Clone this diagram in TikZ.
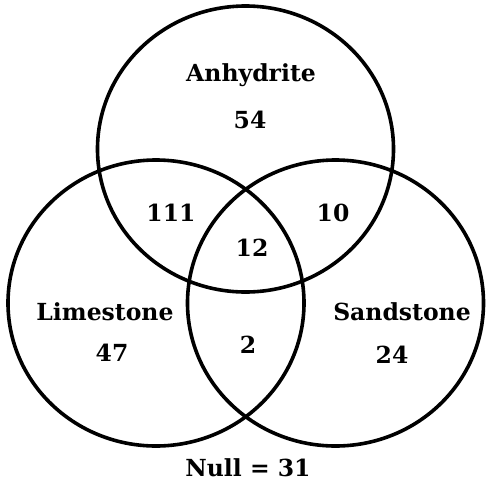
\documentclass[tikz,border=0pt]{standalone}
\usepackage{fontspec}
\setmainfont{DejaVu Serif}
\usetikzlibrary{shapes.geometric}
\begin{document}
\begin{tikzpicture}[x=1pt,y=-1pt,
  setring/.style={draw=black,line width=3.6pt,ellipse,minimum width=296pt,minimum height=286pt,inner sep=0pt},
  lbl/.style={font=\fontsize{23.5}{27}\selectfont\bfseries,inner sep=0pt}]
\useasboundingbox (0,0) rectangle (489,485);
\node[setring] (anh) at (245.5,149) {};
\node[setring] (lim) at (156,303) {};
\node[setring] (san) at (335.5,303) {};
\node[lbl] (tA) at (251,75) {Anhydrite};
\node[lbl] (nA) at (250,120) {54};
\node[lbl] (nAL) at (171,213) {111};
\node[lbl] (nAS) at (333,213) {10};
\node[lbl] (nALS) at (252,248) {12};
\node[lbl] (tL) at (105,312) {Limestone};
\node[lbl] (nL) at (112,353) {47};
\node[lbl] (nLS) at (248,345) {2};
\node[lbl] (tS) at (402,312) {Sandstone};
\node[lbl] (nS) at (392,355) {24};
\node[lbl] (null) at (248,468) {Null = 31};
\end{tikzpicture}
\end{document}
